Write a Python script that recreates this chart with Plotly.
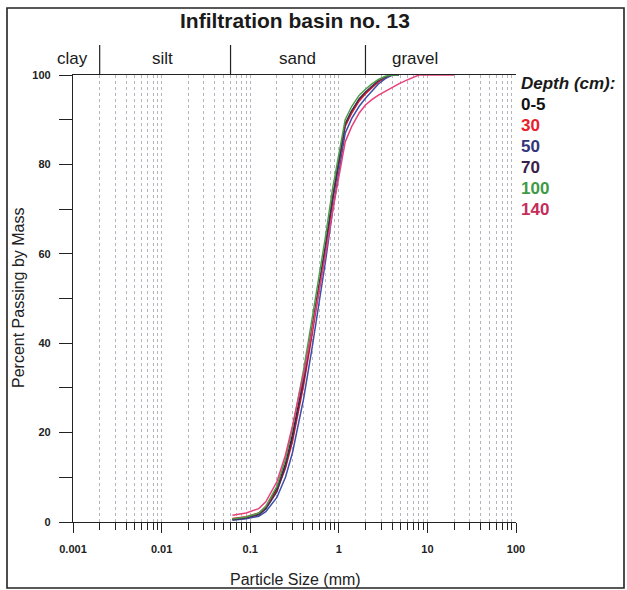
import math
import plotly.graph_objects as go

# ---------------- data ----------------
title_text = "Infiltration basin no. 13"
x_title = "Particle Size (mm)"
y_title = "Percent Passing by Mass"
sizes_mm = [0.063, 0.09, 0.125, 0.15, 0.2, 0.25, 0.3, 0.4, 0.5, 0.6, 0.71, 0.85,
            1.0, 1.18, 1.4, 1.7, 2.0, 2.36, 2.8, 3.35, 4.0, 4.75, 5.6, 6.7, 8.0, 10.0, 20.0]
N = None
depth_labels = ["0-5", "30", "50", "70", "100", "140"]
pass_0_5 = [0.6, 1.0, 1.8, 3.2, 7.5, 13.0, 19.5, 32.0, 43.5, 53.0, 62.0, 72.5,
            80.5, 89.0, 92.0, 94.5, 96.0, 97.3, 98.5, 99.4, 100, 100, N, N, N, N, N]
pass_30 = [0.8, 1.2, 2.0, 3.4, 7.0, 12.0, 18.0, 30.5, 42.0, 52.0, 61.0, 72.0,
           80.0, 88.5, 91.5, 94.2, 95.8, 97.2, 98.5, 99.4, 100, 100, N, N, N, N, N]
pass_50 = [0.4, 0.7, 1.3, 2.3, 5.5, 10.0, 15.5, 27.5, 39.0, 49.0, 58.5, 69.5,
           78.0, 87.0, 90.3, 93.0, 94.8, 96.5, 98.0, 99.2, 100, 100, N, N, N, N, N]
pass_70 = [0.5, 0.9, 1.6, 2.9, 6.8, 12.5, 18.8, 31.5, 43.0, 52.5, 61.5, 72.0,
           80.5, 89.0, 92.0, 94.7, 96.2, 97.5, 98.8, 99.6, 100, 100, N, N, N, N, N]
pass_100 = [0.7, 1.1, 2.0, 3.5, 8.0, 14.0, 21.0, 34.0, 45.5, 55.0, 64.0, 74.5,
            82.0, 90.0, 93.0, 95.5, 96.8, 98.0, 99.0, 99.7, 100, 100, N, N, N, N, N]
pass_140 = [1.5, 2.0, 3.0, 4.5, 9.0, 15.0, 21.5, 33.0, 43.0, 51.5, 60.0, 69.5,
            77.5, 85.0, 88.5, 91.5, 93.3, 94.5, 95.5, 96.4, 97.2, 98.0, 98.7, 99.4, 100, 100, 100]
series_values = [pass_0_5, pass_30, pass_50, pass_70, pass_100, pass_140]

x_tick_vals = [0.001, 0.01, 0.1, 1, 10, 100]
x_tick_text = ["0.001", "0.01", "0.1", "1", "10", "100"]
y_tick_vals = [0, 10, 20, 30, 40, 50, 60, 70, 80, 90, 100]
y_tick_text = ["0", "", "20", "", "40", "", "60", "", "80", "", "100"]

class_names = ["clay", "silt", "sand", "gravel"]
class_bounds_mm = [0.002, 0.06, 2.0]

# ---------------- style ----------------
line_colors = ["#1a1a1a", "#e41e26", "#3d4fa8", "#4a2a5a", "#4aa04a", "#e8407a"]
label_colors = ["#111111", "#e8202a", "#33357a", "#3a2046", "#3f9a45", "#c52c5a"]
FONT = "Liberation Sans, Arial, sans-serif"

W, H = 627, 590
ML, MR, MT, MB = 73, 111, 75, 68
PW, PH = W - ML - MR, H - MT - MB


def px2paper_x(px):
    return (px - ML) / PW


def px2paper_y(py):
    return (H - MB - py) / PH


def logpos(d):
    return (math.log10(d) + 3) / 5.0


fig = go.Figure()
for vals, col, name in zip(series_values, line_colors, depth_labels):
    fig.add_trace(go.Scatter(x=sizes_mm, y=vals, mode="lines", name=name,
                             line=dict(color=col, width=1.5), connectgaps=False,
                             showlegend=False))

minor_vals = [m * 10 ** e for e in range(-3, 2) for m in range(2, 10)]
GRID = "#b4b4bc"

fig.update_layout(
    width=W, height=H,
    margin=dict(l=ML, r=MR, t=MT, b=MB, autoexpand=False),
    paper_bgcolor="white", plot_bgcolor="white",
    font=dict(family=FONT, color="#1a1a1a"),
    xaxis=dict(
        type="log", range=[-3, 2], automargin=False,
        tickmode="array", tickvals=x_tick_vals, ticktext=x_tick_text,
        ticks="outside", ticklen=10, tickwidth=1, tickcolor="#222",
        tickfont=dict(size=11, family=FONT, color="#222", weight="bold"),
        ticklabelstandoff=7,
        showline=True, linecolor="#222", linewidth=1.3, mirror=True,
        showgrid=True, gridcolor=GRID, griddash="dot", gridwidth=1,
        zeroline=False,
        minor=dict(tickmode="array", tickvals=minor_vals, ticks="outside",
                   ticklen=7, tickcolor="#222", showgrid=True,
                   gridcolor=GRID, griddash="dot", gridwidth=1),
    ),
    yaxis=dict(
        range=[0, 100], automargin=False,
        tickmode="array", tickvals=y_tick_vals, ticktext=y_tick_text,
        ticks="outside", ticklen=13, tickwidth=1, tickcolor="#222",
        tickfont=dict(size=11, family=FONT, color="#222", weight="bold"),
        ticklabelstandoff=6,
        showline=True, linecolor="#222", linewidth=1.3, mirror=False,
        showgrid=False, zeroline=False,
    ),
)

# axis titles
fig.add_annotation(text=x_title, xref="paper", yref="paper",
                   x=px2paper_x(295), y=px2paper_y(579), xanchor="center", yanchor="middle",
                   showarrow=False, font=dict(size=16, family=FONT, color="#222"))
fig.add_annotation(text=y_title, xref="paper", yref="paper", textangle=-90,
                   x=px2paper_x(18), y=px2paper_y(298), xanchor="center", yanchor="middle",
                   showarrow=False, font=dict(size=16, family=FONT, color="#222"))

# outer frame
fig.add_shape(type="rect", xref="paper", yref="paper",
              x0=px2paper_x(7), x1=px2paper_x(624), y0=px2paper_y(588), y1=px2paper_y(8),
              line=dict(color="#222", width=1.6), fillcolor="rgba(0,0,0,0)", layer="above")

# title
fig.add_annotation(text="<b>" + title_text + "</b>", xref="paper", yref="paper",
                   x=0.5, y=px2paper_y(21), xanchor="center", yanchor="middle",
                   showarrow=False, font=dict(size=21, family=FONT, color="#1a1a1a"))

# soil class band
for b in class_bounds_mm:
    fig.add_shape(type="line", xref="paper", yref="paper",
                  x0=logpos(b), x1=logpos(b), y0=1.0, y1=px2paper_y(45),
                  line=dict(color="#222", width=1.2))
label_px = [72, 162, 297, 415]
for name, lx in zip(class_names, label_px):
    fig.add_annotation(text=name, xref="paper", yref="paper",
                       x=px2paper_x(lx), y=px2paper_y(59), xanchor="center", yanchor="middle",
                       showarrow=False, font=dict(size=17, family=FONT, color="#1a1a1a"))

# depth legend
fig.add_annotation(text="<b><i>Depth (cm):</i></b>", xref="paper", yref="paper",
                   x=px2paper_x(519), y=px2paper_y(84), xanchor="left", yanchor="middle",
                   showarrow=False, font=dict(size=17, family=FONT, color="#1a1a1a"))
for i, (lab, col) in enumerate(zip(depth_labels, label_colors)):
    fig.add_annotation(text="<b>" + lab + "</b>", xref="paper", yref="paper",
                       x=px2paper_x(519), y=px2paper_y(104 + 21 * i), xanchor="left",
                       yanchor="middle", showarrow=False,
                       font=dict(size=17, family=FONT, color=col))

fig.write_html("out.html")
